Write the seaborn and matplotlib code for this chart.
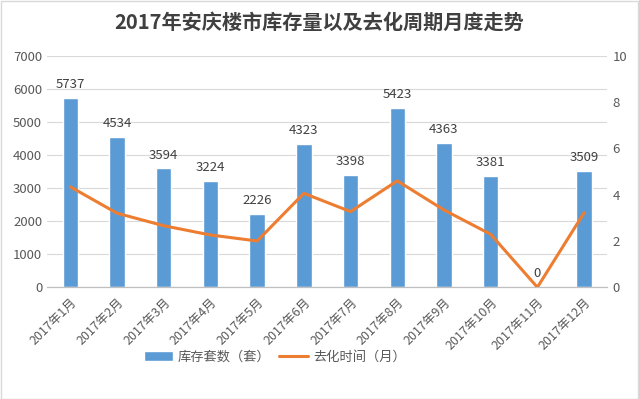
import matplotlib
matplotlib.use("Agg")
import matplotlib.pyplot as plt
import seaborn as sns
import numpy as np
import pandas as pd

# dados
meses = ["2017年1月", "2017年2月", "2017年3月", "2017年4月", "2017年5月", "2017年6月",
         "2017年7月", "2017年8月", "2017年9月", "2017年10月", "2017年11月", "2017年12月"]
estoque = [5737, 4534, 3594, 3224, 2226, 4323, 3398, 5423, 4363, 3381, 0, 3509]
ciclo = [4.34, 3.20, 2.66, 2.26, 2.0, 4.06, 3.27, 4.60, 3.34, 2.29, 0, 3.22]

sns.set_style("white")
plt.rcParams['font.family'] = ['Noto Sans CJK SC', 'DejaVu Sans']

azul = "#5B9BD5"
laranja = "#ED7D31"
cinza = "#595959"

df = pd.DataFrame({"mes": meses, "estoque": estoque, "ciclo": ciclo, "pos": np.arange(len(meses))})

fig = plt.figure(figsize=(6.39, 3.99), dpi=100)
ax = fig.add_axes([0.0736, 0.28, 0.877, 0.58])

sns.barplot(data=df, x="pos", y="estoque", color=azul, width=0.33, ax=ax,
            saturation=1, label="库存套数（套）", zorder=2)
ax.bar_label(ax.containers[0], labels=[str(v) for v in estoque], padding=5,
             fontsize=9.5, color="#404040")

ax2 = ax.twinx()
sns.lineplot(data=df, x="pos", y="ciclo", color=laranja, linewidth=2.2, ax=ax2,
             label="去化时间（月）", legend=False)

ax.set_ylim(0, 7000)
ax.set_yticks(range(0, 7001, 1000))
ax2.set_ylim(0, 10)
ax2.set_yticks(range(0, 11, 2))
ax.set_xlim(-0.5, len(meses) - 0.5)

ax.set_xticks(df["pos"])
ax.set_xticklabels(meses, rotation=45, ha="right", rotation_mode="anchor")
ax.set_xticks(np.arange(-0.5, len(meses), 1), minor=True)
ax.tick_params(axis="x", which="major", length=0, labelsize=9, colors=cinza, pad=6)
ax.tick_params(axis="x", which="minor", length=4, color="#BFBFBF", direction="out")
ax.tick_params(axis="y", length=0, labelsize=9.5, colors=cinza)
ax2.tick_params(axis="y", length=0, labelsize=9.5, colors=cinza)
ax.set_xlabel("")
ax.set_ylabel("")
ax2.set_xlabel("")
ax2.set_ylabel("")

ax.grid(axis="y", color="#D9D9D9", linewidth=0.8, zorder=0)
ax.set_axisbelow(True)
for a in (ax, ax2):
    for s in ("top", "left", "right"):
        a.spines[s].set_visible(False)
    a.spines["bottom"].set_color("#BFBFBF")

fig.text(0.5, 0.945, "2017年安庆楼市库存量以及去化周期月度走势", ha="center", va="center",
         fontsize=14.5, fontweight="bold", color="#404040")

h1, l1 = ax.get_legend_handles_labels()
h2, l2 = ax2.get_legend_handles_labels()
if ax.get_legend():
    ax.get_legend().remove()
fig.legend(h1 + h2, l1 + l2, loc="center", bbox_to_anchor=(0.43, 0.105), ncol=2,
           frameon=False, fontsize=9.5, labelcolor=cinza, handlelength=2.2,
           columnspacing=0.6, handletextpad=0.4)

fig.patches.append(plt.Rectangle((0.001, 0.001), 0.997, 0.997, transform=fig.transFigure,
                                 fill=False, edgecolor="#D9D9D9", linewidth=1))

fig.savefig("out.png", dpi=100)
